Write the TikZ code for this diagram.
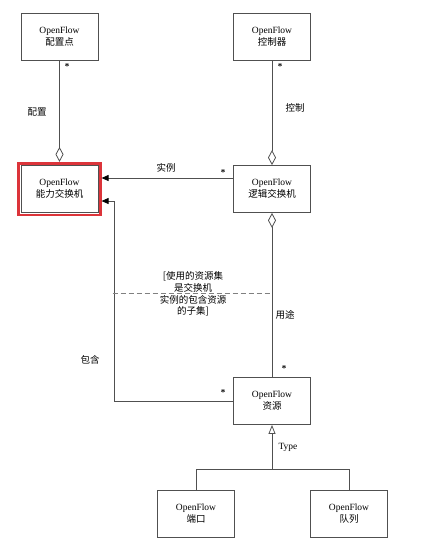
\documentclass[tikz,border=0pt]{standalone}
\usepackage{fontspec}
\setmainfont{Liberation Serif}
\newfontfamily\cjk{Noto Sans CJK SC}
\usetikzlibrary{arrows.meta}
\usetikzlibrary{fit}
\definecolor{linegray}{RGB}{80,80,80}
\definecolor{framered}{RGB}{220,52,58}

\begin{document}
\begin{tikzpicture}[x=1pt,y=-1pt,
  box/.style={draw=linegray, line width=0.8pt, minimum width=77pt, minimum height=47pt, inner sep=1pt, align=center, font=\fontsize{9.5}{12}\selectfont},
  conn/.style={draw=linegray, line width=0.8pt},
  lbl/.style={font=\fontsize{9.5}{11.7}\selectfont\cjk, inner sep=0pt},
  mult/.style={font=\fontsize{9}{9}\selectfont\bfseries, inner sep=0pt}]
\useasboundingbox (0,0) rectangle (427,554);
\node (cfg) at (59.5,36.5) [box] {OpenFlow\\{\cjk 配置点}};
\node (ctl) at (272,36.5) [box] {OpenFlow\\{\cjk 控制器}};
\node (cap) at (59.5,189) [box] {OpenFlow\\{\cjk 能力交换机}};
\node (capframe) [draw=framered, line width=2.6pt, fit=(cap), inner sep=1.9pt] {};
\node (lsw) at (272,189) [box] {OpenFlow\\{\cjk 逻辑交换机}};
\node (res) at (272,401) [box] {OpenFlow\\{\cjk 资源}};
\node (port) at (196,513.5) [box] {OpenFlow\\{\cjk 端口}};
\node (queue) at (349,513.5) [box] {OpenFlow\\{\cjk 队列}};
\coordinate (subL) at (112.7,293.3);
\coordinate (subR) at (272,293.3);
\coordinate (gen) at (272,469.3);
\draw[conn, -{Diamond[open, length=15pt, width=8pt]}] (cfg) -- (capframe);
\draw[conn, -{Diamond[open, length=15pt, width=8pt]}] (ctl) -- (lsw);
\draw[conn, -{Diamond[open, length=15pt, width=8pt]}] (res) -- (lsw);
\draw[conn, -{Triangle[length=7pt, width=6pt, color=black]}] ([yshift=11pt]lsw.west) -- ([yshift=11pt]lsw.west -| capframe.east);
\draw[conn, -{Triangle[length=7pt, width=6pt, color=black]}] (res.west) -| ([xshift=12.7pt,yshift=-12pt]capframe.east) -- ([yshift=-12pt]capframe.east);
\draw[conn, draw=gray, dash pattern=on 5pt off 3pt] (subL) -- (subR);
\draw[conn] (port.north) |- (gen) -| (queue.north);
\draw[conn, -{Triangle[open, length=9pt, width=7pt]}] (gen) -- (res);
% labels
\node (lcfg) at (37,112) [lbl] {配置};
\node (lctl) at (295,108) [lbl] {控制};
\node (linst) at (166,168) [lbl] {实例};
\node (luse) at (285,315) [lbl] {用途};
\node (lincl) at (90,360) [lbl] {包含};
\node (ltype) at (288,447) [font=\fontsize{9.5}{12}\selectfont, inner sep=0pt] {Type};
\node (subset) at (193,294) [lbl, align=center] {[使用的资源集\\是交换机\\实例的包含资源\\的子集]};
% multiplicities
\node (mcfg) at (67,67) [mult] {*};
\node (mctl) at (280,67) [mult] {*};
\node (minst) at (223,173) [mult] {*};
\node (muse) at (284,369) [mult] {*};
\node (mincl) at (223,393) [mult] {*};
\end{tikzpicture}
\end{document}
